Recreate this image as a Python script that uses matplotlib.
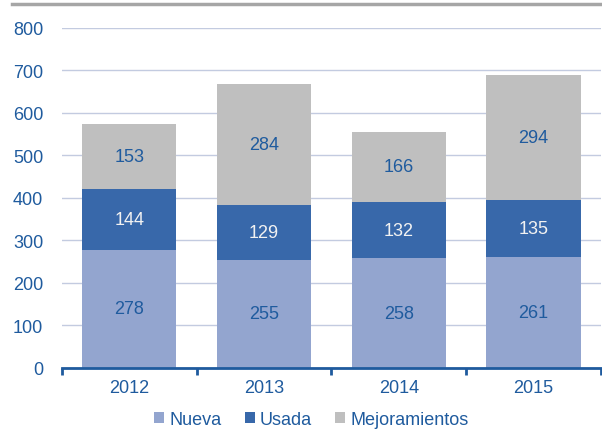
import matplotlib.pyplot as plt
import numpy as np

# Data
years = ['2012', '2013', '2014', '2015']
nueva = [278, 255, 258, 261]
usada = [144, 129, 132, 135]
mejoramientos = [153, 284, 166, 294]

BLUE_TXT = '#1f5b9e'
C_NUEVA = '#93a5cf'
C_USADA = '#3868aa'
C_MEJ = '#bfbfbf'

plt.rcParams['font.family'] = ['Liberation Sans', 'DejaVu Sans']
FS = 13

fig = plt.figure(figsize=(6.02, 4.31), dpi=100)
ax = fig.add_axes([0.103, 0.144, 0.895, 0.789])

x = np.arange(len(years))
w = 0.7
b1 = ax.bar(x, nueva, w, color=C_NUEVA, label='Nueva', zorder=2)
b2 = ax.bar(x, usada, w, bottom=nueva, color=C_USADA, label='Usada', zorder=2)
bottom3 = [a + b for a, b in zip(nueva, usada)]
b3 = ax.bar(x, mejoramientos, w, bottom=bottom3, color=C_MEJ, label='Mejoramientos', zorder=2)

ax.bar_label(b1, label_type='center', color=BLUE_TXT, fontsize=FS)
ax.bar_label(b2, label_type='center', color='#f2f2f2', fontsize=FS)
ax.bar_label(b3, label_type='center', color=BLUE_TXT, fontsize=FS)

ax.set_xlim(-0.5, len(years) - 0.5)
ax.set_ylim(0, 800)
ax.set_yticks(range(0, 801, 100))
ax.grid(axis='y', color='#c3cbe0', linewidth=1, zorder=0)

ax.set_xticks(x)
ax.set_xticklabels(years)
ax.set_xticks(np.arange(-0.5, len(years), 1), minor=True)
ax.tick_params(axis='x', which='major', length=0, pad=8, labelsize=FS, labelcolor=BLUE_TXT)
ax.tick_params(axis='x', which='minor', length=5, width=2, color=BLUE_TXT, direction='out')
ax.tick_params(axis='y', length=0, pad=13.5, labelsize=FS, labelcolor=BLUE_TXT)

for s in ['top', 'right', 'left']:
    ax.spines[s].set_visible(False)
ax.spines['bottom'].set_color(BLUE_TXT)
ax.spines['bottom'].set_linewidth(2)

ax.legend(loc='center', bbox_to_anchor=(0.517, 0.024), bbox_transform=fig.transFigure,
          ncol=3, frameon=False, fontsize=FS, labelcolor=BLUE_TXT,
          handlelength=0.55, handleheight=0.55, handletextpad=0.28,
          columnspacing=1.3, borderpad=0)

# grey line at top of the figure
fig.add_artist(plt.Line2D([0.02, 1.0], [0.988, 0.988], color='#a6a6a6', linewidth=2.5))

fig.savefig('out.png', dpi=100)
